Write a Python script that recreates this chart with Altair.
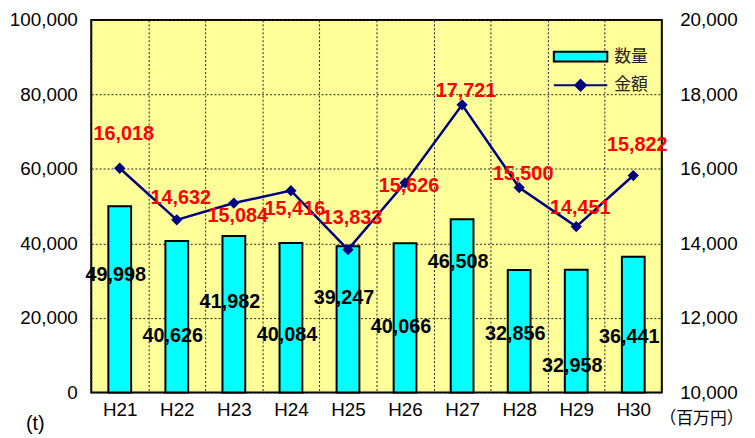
import altair as alt
import pandas as pd

years = ["H21", "H22", "H23", "H24", "H25", "H26", "H27", "H28", "H29", "H30"]
qty = [49998, 40626, 41982, 40084, 39247, 40066, 46508, 32856, 32958, 36441]
amt = [16018, 14632, 15084, 15416, 13833, 15626, 17721, 15500, 14451, 15822]
# where each data label sits, in the units of its own axis
qty_label_at = [31500, 15000, 24300, 15300, 25400, 17500, 34900, 15600, 7100, 14800]
amt_label_at = [16930, 15210, 14740, 14920, 14680, 15530, 18100, 15870, 14950, 16640]

df = pd.DataFrame({
    "year": years, "qty": qty, "amt": amt,
    "qty_at": qty_label_at, "amt_at": amt_label_at,
    "s_q": ["数量"] * 10, "s_a": ["金額"] * 10,
})
df["qty_txt"] = [f"{v:,}" for v in qty]
df["amt_txt"] = [f"{v:,}" for v in amt]

NUMFONT = "Liberation Sans, Arial, sans-serif"
JPFONT = "Noto Sans CJK JP, sans-serif"

x = alt.X("year:N", sort=years, title=None,
          scale=alt.Scale(paddingInner=0, paddingOuter=0),
          axis=alt.Axis(grid=True, tickBand="extent", labelAngle=0, labelPadding=8,
                        labelFont="Liberation Sans Narrow, Liberation Sans, sans-serif",
                        labelFontSize=19, ticks=False, domain=False,
                        gridDash=[2, 2], gridColor="#222", gridWidth=1))

yl_scale = alt.Scale(domain=[0, 100000], nice=False, zero=True)
yr_scale = alt.Scale(domain=[10000, 20000], nice=False, zero=False)

yl_axis = alt.Axis(values=[0, 20000, 40000, 60000, 80000, 100000], format=",.0f",
                   grid=True, gridDash=[2, 2], gridColor="#222", gridWidth=1,
                   ticks=False, domain=False, labelPadding=14,
                   labelFont=NUMFONT, labelFontSize=19,
                   titleAngle=0, titleX=-57, titleY=407, titleAlign="center",
                   titleBaseline="middle", titleFont=NUMFONT, titleFontSize=20,
                   titleFontWeight="normal")
yr_axis = alt.Axis(orient="right", values=list(range(10000, 20001, 2000)), format=",.0f",
                   grid=False, ticks=False, domain=False, labelPadding=18,
                   labelFont=NUMFONT, labelFontSize=19,
                   titleAngle=0, titleX=82, titleY=402, titleAlign="right",
                   titleBaseline="middle", titleFont=JPFONT, titleFontSize=17,
                   titleFontWeight="normal")

base = alt.Chart(df)

bars = base.mark_bar(size=23, stroke="black", strokeWidth=2).encode(
    x=x,
    y=alt.Y("qty:Q", scale=yl_scale, title="(t)", axis=yl_axis),
    fill=alt.Fill("s_q:N", scale=alt.Scale(domain=["数量"], range=["#00FFFF"]),
                  legend=alt.Legend(title=None, orient="none", legendX=466, legendY=9,
                                    symbolType="M-1,-0.18L1,-0.18L1,0.18L-1,0.18Z",
                                    symbolSize=2916, symbolStrokeColor="black",
                                    symbolStrokeWidth=2, labelFont=JPFONT,
                                    labelFontSize=17, labelOffset=6, padding=0,
                                    labelColor="#222")),
)

qty_text = base.mark_text(font=NUMFONT, fontSize=20, fontWeight="bold", color="black",
                          dx=-4, baseline="middle").encode(
    x=x,
    y=alt.Y("qty_at:Q", scale=yl_scale, title="(t)", axis=yl_axis),
    text="qty_txt:N",
)

left = alt.layer(bars, qty_text)

line = base.mark_line(strokeWidth=2.5).encode(
    x=x,
    y=alt.Y("amt:Q", scale=yr_scale, title="（百万円）", axis=yr_axis),
    stroke=alt.Stroke("s_a:N", scale=alt.Scale(domain=["金額"], range=["#000080"]),
                      legend=alt.Legend(title=None, orient="none", legendX=466, legendY=38,
                                        symbolType="M-1,0L1,0M0,-0.2L0.2,0L0,0.2L-0.2,0Z",
                                        symbolSize=2916, symbolFillColor="#000080",
                                        symbolStrokeWidth=2, labelFont=JPFONT,
                                        labelFontSize=17, labelOffset=6, padding=0,
                                        labelColor="#222")),
)

points = base.mark_point(shape="diamond", filled=True, size=130, color="#000080",
                         opacity=1).encode(
    x=x,
    y=alt.Y("amt:Q", scale=yr_scale, title="（百万円）", axis=yr_axis),
)

amt_text = base.mark_text(font=NUMFONT, fontSize=20, fontWeight="bold", color="#FF0000",
                          dx=4, baseline="middle").encode(
    x=x,
    y=alt.Y("amt_at:Q", scale=yr_scale, title="（百万円）", axis=yr_axis),
    text="amt_txt:N",
)

right = alt.layer(line, points, amt_text)

chart = alt.layer(left, right).resolve_scale(y="independent").properties(
    width=576, height=376,
    autosize=alt.AutoSizeParams(type="none"),
    padding={"left": 84, "top": 10, "right": 86, "bottom": 44},
).configure_view(
    fill="#FFFF99", stroke="black", strokeWidth=2
).configure_axis(
    labelColor="black", titleColor="black"
)

chart.save("out.html", embed_options={"renderer": "svg", "actions": False})
